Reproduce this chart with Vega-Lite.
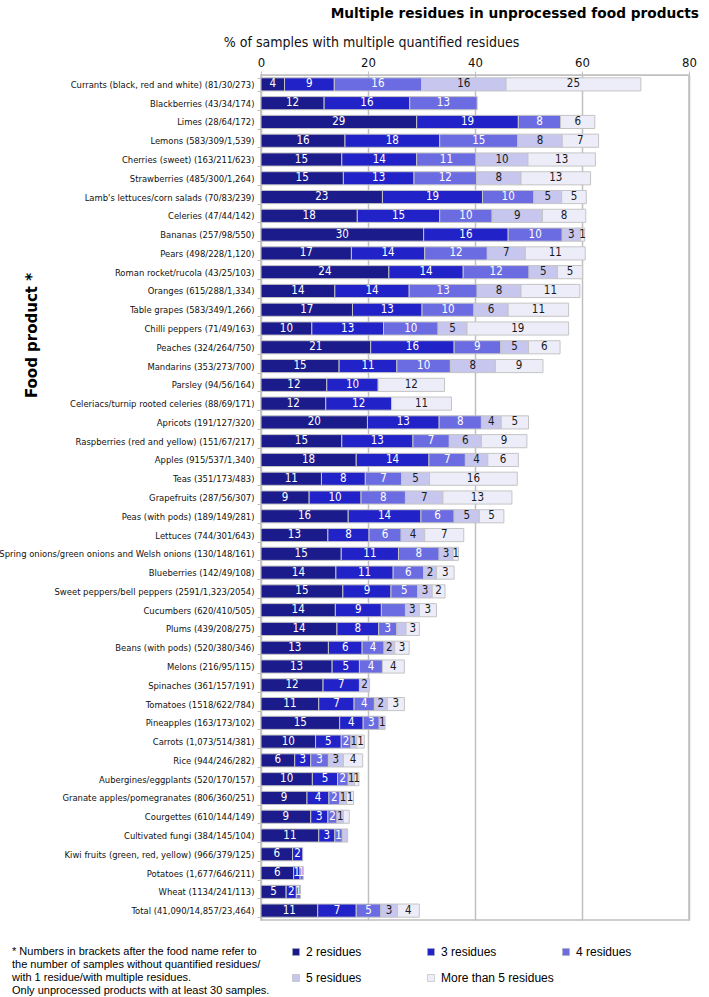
{
  "$schema": "https://vega.github.io/schema/vega-lite/v6.json",
  "width": 428,
  "height": 845,
  "autosize": {"type": "none"},
  "padding": {"left": 261, "top": 75, "right": 20, "bottom": 77},
  "background": "white",
  "title": {"text": "Multiple residues in unprocessed food products", "anchor": "end", "frame": "group", "font": "DejaVu Sans", "fontSize": 13.7, "fontWeight": "bold", "color": "black", "dx": 10, "offset": 14},
  "data": {"values": [
    {"food": "Currants (black, red and white) (81/30/273)", "residues": "2 residues", "value": 4.4, "label": "4"},
    {"food": "Currants (black, red and white) (81/30/273)", "residues": "3 residues", "value": 9.3, "label": "9"},
    {"food": "Currants (black, red and white) (81/30/273)", "residues": "4 residues", "value": 16.3, "label": "16"},
    {"food": "Currants (black, red and white) (81/30/273)", "residues": "5 residues", "value": 15.8, "label": "16"},
    {"food": "Currants (black, red and white) (81/30/273)", "residues": "More than 5 residues", "value": 25.2, "label": "25"},
    {"food": "Blackberries (43/34/174)", "residues": "2 residues", "value": 11.8, "label": "12"},
    {"food": "Blackberries (43/34/174)", "residues": "3 residues", "value": 16.0, "label": "16"},
    {"food": "Blackberries (43/34/174)", "residues": "4 residues", "value": 12.6, "label": "13"},
    {"food": "Limes (28/64/172)", "residues": "2 residues", "value": 29.1, "label": "29"},
    {"food": "Limes (28/64/172)", "residues": "3 residues", "value": 19.0, "label": "19"},
    {"food": "Limes (28/64/172)", "residues": "4 residues", "value": 7.9, "label": "8"},
    {"food": "Limes (28/64/172)", "residues": "More than 5 residues", "value": 6.4, "label": "6"},
    {"food": "Lemons (583/309/1,539)", "residues": "2 residues", "value": 15.7, "label": "16"},
    {"food": "Lemons (583/309/1,539)", "residues": "3 residues", "value": 17.7, "label": "18"},
    {"food": "Lemons (583/309/1,539)", "residues": "4 residues", "value": 14.6, "label": "15"},
    {"food": "Lemons (583/309/1,539)", "residues": "5 residues", "value": 8.3, "label": "8"},
    {"food": "Lemons (583/309/1,539)", "residues": "More than 5 residues", "value": 6.8, "label": "7"},
    {"food": "Cherries (sweet) (163/211/623)", "residues": "2 residues", "value": 15.1, "label": "15"},
    {"food": "Cherries (sweet) (163/211/623)", "residues": "3 residues", "value": 14.0, "label": "14"},
    {"food": "Cherries (sweet) (163/211/623)", "residues": "4 residues", "value": 11.1, "label": "11"},
    {"food": "Cherries (sweet) (163/211/623)", "residues": "5 residues", "value": 9.7, "label": "10"},
    {"food": "Cherries (sweet) (163/211/623)", "residues": "More than 5 residues", "value": 12.6, "label": "13"},
    {"food": "Strawberries (485/300/1,264)", "residues": "2 residues", "value": 15.4, "label": "15"},
    {"food": "Strawberries (485/300/1,264)", "residues": "3 residues", "value": 13.2, "label": "13"},
    {"food": "Strawberries (485/300/1,264)", "residues": "4 residues", "value": 11.7, "label": "12"},
    {"food": "Strawberries (485/300/1,264)", "residues": "5 residues", "value": 8.3, "label": "8"},
    {"food": "Strawberries (485/300/1,264)", "residues": "More than 5 residues", "value": 13.0, "label": "13"},
    {"food": "Lamb's lettuces/corn salads (70/83/239)", "residues": "2 residues", "value": 22.7, "label": "23"},
    {"food": "Lamb's lettuces/corn salads (70/83/239)", "residues": "3 residues", "value": 18.7, "label": "19"},
    {"food": "Lamb's lettuces/corn salads (70/83/239)", "residues": "4 residues", "value": 9.6, "label": "10"},
    {"food": "Lamb's lettuces/corn salads (70/83/239)", "residues": "5 residues", "value": 5.2, "label": "5"},
    {"food": "Lamb's lettuces/corn salads (70/83/239)", "residues": "More than 5 residues", "value": 4.6, "label": "5"},
    {"food": "Celeries (47/44/142)", "residues": "2 residues", "value": 18.0, "label": "18"},
    {"food": "Celeries (47/44/142)", "residues": "3 residues", "value": 15.4, "label": "15"},
    {"food": "Celeries (47/44/142)", "residues": "4 residues", "value": 9.8, "label": "10"},
    {"food": "Celeries (47/44/142)", "residues": "5 residues", "value": 9.4, "label": "9"},
    {"food": "Celeries (47/44/142)", "residues": "More than 5 residues", "value": 8.1, "label": "8"},
    {"food": "Bananas (257/98/550)", "residues": "2 residues", "value": 30.4, "label": "30"},
    {"food": "Bananas (257/98/550)", "residues": "3 residues", "value": 15.8, "label": "16"},
    {"food": "Bananas (257/98/550)", "residues": "4 residues", "value": 10.1, "label": "10"},
    {"food": "Bananas (257/98/550)", "residues": "5 residues", "value": 3.4, "label": "3"},
    {"food": "Bananas (257/98/550)", "residues": "More than 5 residues", "value": 0.8, "label": "1"},
    {"food": "Pears (498/228/1,120)", "residues": "2 residues", "value": 16.9, "label": "17"},
    {"food": "Pears (498/228/1,120)", "residues": "3 residues", "value": 13.7, "label": "14"},
    {"food": "Pears (498/228/1,120)", "residues": "4 residues", "value": 11.7, "label": "12"},
    {"food": "Pears (498/228/1,120)", "residues": "5 residues", "value": 7.1, "label": "7"},
    {"food": "Pears (498/228/1,120)", "residues": "More than 5 residues", "value": 11.2, "label": "11"},
    {"food": "Roman rocket/rucola (43/25/103)", "residues": "2 residues", "value": 23.9, "label": "24"},
    {"food": "Roman rocket/rucola (43/25/103)", "residues": "3 residues", "value": 13.9, "label": "14"},
    {"food": "Roman rocket/rucola (43/25/103)", "residues": "4 residues", "value": 12.3, "label": "12"},
    {"food": "Roman rocket/rucola (43/25/103)", "residues": "5 residues", "value": 5.3, "label": "5"},
    {"food": "Roman rocket/rucola (43/25/103)", "residues": "More than 5 residues", "value": 4.7, "label": "5"},
    {"food": "Oranges (615/288/1,334)", "residues": "2 residues", "value": 13.8, "label": "14"},
    {"food": "Oranges (615/288/1,334)", "residues": "3 residues", "value": 13.9, "label": "14"},
    {"food": "Oranges (615/288/1,334)", "residues": "4 residues", "value": 12.7, "label": "13"},
    {"food": "Oranges (615/288/1,334)", "residues": "5 residues", "value": 8.2, "label": "8"},
    {"food": "Oranges (615/288/1,334)", "residues": "More than 5 residues", "value": 11.0, "label": "11"},
    {"food": "Table grapes (583/349/1,266)", "residues": "2 residues", "value": 17.1, "label": "17"},
    {"food": "Table grapes (583/349/1,266)", "residues": "3 residues", "value": 13.0, "label": "13"},
    {"food": "Table grapes (583/349/1,266)", "residues": "4 residues", "value": 9.7, "label": "10"},
    {"food": "Table grapes (583/349/1,266)", "residues": "5 residues", "value": 6.4, "label": "6"},
    {"food": "Table grapes (583/349/1,266)", "residues": "More than 5 residues", "value": 11.3, "label": "11"},
    {"food": "Chilli peppers (71/49/163)", "residues": "2 residues", "value": 9.5, "label": "10"},
    {"food": "Chilli peppers (71/49/163)", "residues": "3 residues", "value": 13.4, "label": "13"},
    {"food": "Chilli peppers (71/49/163)", "residues": "4 residues", "value": 10.2, "label": "10"},
    {"food": "Chilli peppers (71/49/163)", "residues": "5 residues", "value": 5.4, "label": "5"},
    {"food": "Chilli peppers (71/49/163)", "residues": "More than 5 residues", "value": 19.0, "label": "19"},
    {"food": "Peaches (324/264/750)", "residues": "2 residues", "value": 20.5, "label": "21"},
    {"food": "Peaches (324/264/750)", "residues": "3 residues", "value": 15.6, "label": "16"},
    {"food": "Peaches (324/264/750)", "residues": "4 residues", "value": 8.7, "label": "9"},
    {"food": "Peaches (324/264/750)", "residues": "5 residues", "value": 5.2, "label": "5"},
    {"food": "Peaches (324/264/750)", "residues": "More than 5 residues", "value": 5.9, "label": "6"},
    {"food": "Mandarins (353/273/700)", "residues": "2 residues", "value": 14.6, "label": "15"},
    {"food": "Mandarins (353/273/700)", "residues": "3 residues", "value": 10.8, "label": "11"},
    {"food": "Mandarins (353/273/700)", "residues": "4 residues", "value": 10.0, "label": "10"},
    {"food": "Mandarins (353/273/700)", "residues": "5 residues", "value": 8.4, "label": "8"},
    {"food": "Mandarins (353/273/700)", "residues": "More than 5 residues", "value": 8.9, "label": "9"},
    {"food": "Parsley (94/56/164)", "residues": "2 residues", "value": 12.3, "label": "12"},
    {"food": "Parsley (94/56/164)", "residues": "3 residues", "value": 9.6, "label": "10"},
    {"food": "Parsley (94/56/164)", "residues": "More than 5 residues", "value": 12.4, "label": "12"},
    {"food": "Celeriacs/turnip rooted celeries (88/69/171)", "residues": "2 residues", "value": 12.1, "label": "12"},
    {"food": "Celeriacs/turnip rooted celeries (88/69/171)", "residues": "3 residues", "value": 12.3, "label": "12"},
    {"food": "Celeriacs/turnip rooted celeries (88/69/171)", "residues": "More than 5 residues", "value": 11.2, "label": "11"},
    {"food": "Apricots (191/127/320)", "residues": "2 residues", "value": 19.9, "label": "20"},
    {"food": "Apricots (191/127/320)", "residues": "3 residues", "value": 13.4, "label": "13"},
    {"food": "Apricots (191/127/320)", "residues": "4 residues", "value": 7.9, "label": "8"},
    {"food": "Apricots (191/127/320)", "residues": "5 residues", "value": 3.7, "label": "4"},
    {"food": "Apricots (191/127/320)", "residues": "More than 5 residues", "value": 5.1, "label": "5"},
    {"food": "Raspberries (red and yellow) (151/67/217)", "residues": "2 residues", "value": 15.1, "label": "15"},
    {"food": "Raspberries (red and yellow) (151/67/217)", "residues": "3 residues", "value": 13.3, "label": "13"},
    {"food": "Raspberries (red and yellow) (151/67/217)", "residues": "4 residues", "value": 6.8, "label": "7"},
    {"food": "Raspberries (red and yellow) (151/67/217)", "residues": "5 residues", "value": 6.0, "label": "6"},
    {"food": "Raspberries (red and yellow) (151/67/217)", "residues": "More than 5 residues", "value": 8.5, "label": "9"},
    {"food": "Apples (915/537/1,340)", "residues": "2 residues", "value": 17.8, "label": "18"},
    {"food": "Apples (915/537/1,340)", "residues": "3 residues", "value": 13.6, "label": "14"},
    {"food": "Apples (915/537/1,340)", "residues": "4 residues", "value": 6.8, "label": "7"},
    {"food": "Apples (915/537/1,340)", "residues": "5 residues", "value": 4.2, "label": "4"},
    {"food": "Apples (915/537/1,340)", "residues": "More than 5 residues", "value": 5.7, "label": "6"},
    {"food": "Teas (351/173/483)", "residues": "2 residues", "value": 11.3, "label": "11"},
    {"food": "Teas (351/173/483)", "residues": "3 residues", "value": 8.2, "label": "8"},
    {"food": "Teas (351/173/483)", "residues": "4 residues", "value": 6.8, "label": "7"},
    {"food": "Teas (351/173/483)", "residues": "5 residues", "value": 5.2, "label": "5"},
    {"food": "Teas (351/173/483)", "residues": "More than 5 residues", "value": 16.4, "label": "16"},
    {"food": "Grapefruits (287/56/307)", "residues": "2 residues", "value": 9.0, "label": "9"},
    {"food": "Grapefruits (287/56/307)", "residues": "3 residues", "value": 9.7, "label": "10"},
    {"food": "Grapefruits (287/56/307)", "residues": "4 residues", "value": 8.3, "label": "8"},
    {"food": "Grapefruits (287/56/307)", "residues": "5 residues", "value": 7.0, "label": "7"},
    {"food": "Grapefruits (287/56/307)", "residues": "More than 5 residues", "value": 12.9, "label": "13"},
    {"food": "Peas (with pods) (189/149/281)", "residues": "2 residues", "value": 16.3, "label": "16"},
    {"food": "Peas (with pods) (189/149/281)", "residues": "3 residues", "value": 13.6, "label": "14"},
    {"food": "Peas (with pods) (189/149/281)", "residues": "4 residues", "value": 6.2, "label": "6"},
    {"food": "Peas (with pods) (189/149/281)", "residues": "5 residues", "value": 4.7, "label": "5"},
    {"food": "Peas (with pods) (189/149/281)", "residues": "More than 5 residues", "value": 4.6, "label": "5"},
    {"food": "Lettuces (744/301/643)", "residues": "2 residues", "value": 12.5, "label": "13"},
    {"food": "Lettuces (744/301/643)", "residues": "3 residues", "value": 7.7, "label": "8"},
    {"food": "Lettuces (744/301/643)", "residues": "4 residues", "value": 6.0, "label": "6"},
    {"food": "Lettuces (744/301/643)", "residues": "5 residues", "value": 4.4, "label": "4"},
    {"food": "Lettuces (744/301/643)", "residues": "More than 5 residues", "value": 7.3, "label": "7"},
    {"food": "Spring onions/green onions and Welsh onions (130/148/161)", "residues": "2 residues", "value": 15.0, "label": "15"},
    {"food": "Spring onions/green onions and Welsh onions (130/148/161)", "residues": "3 residues", "value": 10.7, "label": "11"},
    {"food": "Spring onions/green onions and Welsh onions (130/148/161)", "residues": "4 residues", "value": 7.6, "label": "8"},
    {"food": "Spring onions/green onions and Welsh onions (130/148/161)", "residues": "5 residues", "value": 2.6, "label": "3"},
    {"food": "Spring onions/green onions and Welsh onions (130/148/161)", "residues": "More than 5 residues", "value": 1.0, "label": "1"},
    {"food": "Blueberries (142/49/108)", "residues": "2 residues", "value": 14.0, "label": "14"},
    {"food": "Blueberries (142/49/108)", "residues": "3 residues", "value": 10.7, "label": "11"},
    {"food": "Blueberries (142/49/108)", "residues": "4 residues", "value": 5.7, "label": "6"},
    {"food": "Blueberries (142/49/108)", "residues": "5 residues", "value": 2.4, "label": "2"},
    {"food": "Blueberries (142/49/108)", "residues": "More than 5 residues", "value": 3.3, "label": "3"},
    {"food": "Sweet peppers/bell peppers (2591/1,323/2054)", "residues": "2 residues", "value": 15.3, "label": "15"},
    {"food": "Sweet peppers/bell peppers (2591/1,323/2054)", "residues": "3 residues", "value": 9.0, "label": "9"},
    {"food": "Sweet peppers/bell peppers (2591/1,323/2054)", "residues": "4 residues", "value": 5.0, "label": "5"},
    {"food": "Sweet peppers/bell peppers (2591/1,323/2054)", "residues": "5 residues", "value": 2.7, "label": "3"},
    {"food": "Sweet peppers/bell peppers (2591/1,323/2054)", "residues": "More than 5 residues", "value": 2.4, "label": "2"},
    {"food": "Cucumbers (620/410/505)", "residues": "2 residues", "value": 13.9, "label": "14"},
    {"food": "Cucumbers (620/410/505)", "residues": "3 residues", "value": 8.6, "label": "9"},
    {"food": "Cucumbers (620/410/505)", "residues": "4 residues", "value": 4.5, "label": ""},
    {"food": "Cucumbers (620/410/505)", "residues": "5 residues", "value": 2.6, "label": "3"},
    {"food": "Cucumbers (620/410/505)", "residues": "More than 5 residues", "value": 3.2, "label": "3"},
    {"food": "Plums (439/208/275)", "residues": "2 residues", "value": 14.2, "label": "14"},
    {"food": "Plums (439/208/275)", "residues": "3 residues", "value": 7.8, "label": "8"},
    {"food": "Plums (439/208/275)", "residues": "4 residues", "value": 3.4, "label": "3"},
    {"food": "Plums (439/208/275)", "residues": "5 residues", "value": 1.7, "label": ""},
    {"food": "Plums (439/208/275)", "residues": "More than 5 residues", "value": 2.5, "label": "3"},
    {"food": "Beans (with pods) (520/380/346)", "residues": "2 residues", "value": 12.6, "label": "13"},
    {"food": "Beans (with pods) (520/380/346)", "residues": "3 residues", "value": 6.3, "label": "6"},
    {"food": "Beans (with pods) (520/380/346)", "residues": "4 residues", "value": 4.1, "label": "4"},
    {"food": "Beans (with pods) (520/380/346)", "residues": "5 residues", "value": 2.0, "label": "2"},
    {"food": "Beans (with pods) (520/380/346)", "residues": "More than 5 residues", "value": 2.7, "label": "3"},
    {"food": "Melons (216/95/115)", "residues": "2 residues", "value": 13.3, "label": "13"},
    {"food": "Melons (216/95/115)", "residues": "3 residues", "value": 5.1, "label": "5"},
    {"food": "Melons (216/95/115)", "residues": "4 residues", "value": 4.3, "label": "4"},
    {"food": "Melons (216/95/115)", "residues": "More than 5 residues", "value": 4.1, "label": "4"},
    {"food": "Spinaches (361/157/191)", "residues": "2 residues", "value": 11.6, "label": "12"},
    {"food": "Spinaches (361/157/191)", "residues": "3 residues", "value": 6.8, "label": "7"},
    {"food": "Spinaches (361/157/191)", "residues": "5 residues", "value": 1.9, "label": "2"},
    {"food": "Tomatoes (1518/622/784)", "residues": "2 residues", "value": 10.8, "label": "11"},
    {"food": "Tomatoes (1518/622/784)", "residues": "3 residues", "value": 6.6, "label": "7"},
    {"food": "Tomatoes (1518/622/784)", "residues": "4 residues", "value": 3.8, "label": "4"},
    {"food": "Tomatoes (1518/622/784)", "residues": "5 residues", "value": 2.4, "label": "2"},
    {"food": "Tomatoes (1518/622/784)", "residues": "More than 5 residues", "value": 3.2, "label": "3"},
    {"food": "Pineapples (163/173/102)", "residues": "2 residues", "value": 14.7, "label": "15"},
    {"food": "Pineapples (163/173/102)", "residues": "3 residues", "value": 4.4, "label": "4"},
    {"food": "Pineapples (163/173/102)", "residues": "4 residues", "value": 3.0, "label": "3"},
    {"food": "Pineapples (163/173/102)", "residues": "5 residues", "value": 1.1, "label": "1"},
    {"food": "Carrots (1,073/514/381)", "residues": "2 residues", "value": 10.2, "label": "10"},
    {"food": "Carrots (1,073/514/381)", "residues": "3 residues", "value": 4.8, "label": "5"},
    {"food": "Carrots (1,073/514/381)", "residues": "4 residues", "value": 1.8, "label": "2"},
    {"food": "Carrots (1,073/514/381)", "residues": "5 residues", "value": 1.1, "label": "1"},
    {"food": "Carrots (1,073/514/381)", "residues": "More than 5 residues", "value": 1.4, "label": "1"},
    {"food": "Rice (944/246/282)", "residues": "2 residues", "value": 6.3, "label": "6"},
    {"food": "Rice (944/246/282)", "residues": "3 residues", "value": 3.0, "label": "3"},
    {"food": "Rice (944/246/282)", "residues": "4 residues", "value": 3.3, "label": "3"},
    {"food": "Rice (944/246/282)", "residues": "5 residues", "value": 2.8, "label": "3"},
    {"food": "Rice (944/246/282)", "residues": "More than 5 residues", "value": 3.6, "label": "4"},
    {"food": "Aubergines/eggplants (520/170/157)", "residues": "2 residues", "value": 9.6, "label": "10"},
    {"food": "Aubergines/eggplants (520/170/157)", "residues": "3 residues", "value": 4.7, "label": "5"},
    {"food": "Aubergines/eggplants (520/170/157)", "residues": "4 residues", "value": 2.0, "label": "2"},
    {"food": "Aubergines/eggplants (520/170/157)", "residues": "5 residues", "value": 1.2, "label": "1"},
    {"food": "Aubergines/eggplants (520/170/157)", "residues": "More than 5 residues", "value": 0.8, "label": "1"},
    {"food": "Granate apples/pomegranates (806/360/251)", "residues": "2 residues", "value": 8.6, "label": "9"},
    {"food": "Granate apples/pomegranates (806/360/251)", "residues": "3 residues", "value": 4.1, "label": "4"},
    {"food": "Granate apples/pomegranates (806/360/251)", "residues": "4 residues", "value": 2.0, "label": "2"},
    {"food": "Granate apples/pomegranates (806/360/251)", "residues": "5 residues", "value": 1.3, "label": "1"},
    {"food": "Granate apples/pomegranates (806/360/251)", "residues": "More than 5 residues", "value": 1.3, "label": "1"},
    {"food": "Courgettes (610/144/149)", "residues": "2 residues", "value": 9.3, "label": "9"},
    {"food": "Courgettes (610/144/149)", "residues": "3 residues", "value": 3.2, "label": "3"},
    {"food": "Courgettes (610/144/149)", "residues": "4 residues", "value": 1.7, "label": "2"},
    {"food": "Courgettes (610/144/149)", "residues": "5 residues", "value": 1.2, "label": "1"},
    {"food": "Courgettes (610/144/149)", "residues": "More than 5 residues", "value": 1.1, "label": ""},
    {"food": "Cultivated fungi (384/145/104)", "residues": "2 residues", "value": 10.8, "label": "11"},
    {"food": "Cultivated fungi (384/145/104)", "residues": "3 residues", "value": 3.0, "label": "3"},
    {"food": "Cultivated fungi (384/145/104)", "residues": "4 residues", "value": 1.4, "label": "1"},
    {"food": "Cultivated fungi (384/145/104)", "residues": "5 residues", "value": 1.0, "label": ""},
    {"food": "Kiwi fruits (green, red, yellow) (966/379/125)", "residues": "2 residues", "value": 5.9, "label": "6"},
    {"food": "Kiwi fruits (green, red, yellow) (966/379/125)", "residues": "3 residues", "value": 1.9, "label": "2"},
    {"food": "Potatoes (1,677/646/211)", "residues": "2 residues", "value": 6.1, "label": "6"},
    {"food": "Potatoes (1,677/646/211)", "residues": "3 residues", "value": 1.2, "label": "1"},
    {"food": "Potatoes (1,677/646/211)", "residues": "4 residues", "value": 0.6, "label": "1"},
    {"food": "Wheat (1134/241/113)", "residues": "2 residues", "value": 4.7, "label": "5"},
    {"food": "Wheat (1134/241/113)", "residues": "3 residues", "value": 1.9, "label": "2"},
    {"food": "Wheat (1134/241/113)", "residues": "4 residues", "value": 0.8, "label": "1"},
    {"food": "Total (41,090/14,857/23,464)", "residues": "2 residues", "value": 10.6, "label": "11"},
    {"food": "Total (41,090/14,857/23,464)", "residues": "3 residues", "value": 7.2, "label": "7"},
    {"food": "Total (41,090/14,857/23,464)", "residues": "4 residues", "value": 4.6, "label": "5"},
    {"food": "Total (41,090/14,857/23,464)", "residues": "5 residues", "value": 3.1, "label": "3"},
    {"food": "Total (41,090/14,857/23,464)", "residues": "More than 5 residues", "value": 4.1, "label": "4"}
  ]},
  "encoding": {
    "y": {
      "field": "food", "type": "nominal", "sort": null,
      "scale": {"paddingInner": 0.3, "paddingOuter": 0.15},
      "axis": {
        "title": "Food product *", "titleFont": "DejaVu Sans", "titleFontSize": 15, "titleFontWeight": "bold", "titleColor": "black",
        "titleAngle": -90, "titleX": -230, "titleY": 260, "titleAlign": "center", "titleBaseline": "middle",
        "labelFont": "DejaVu Sans Condensed, sans-serif", "labelFontSize": 9.4, "labelColor": "#111", "labelPadding": 3, "labelLimit": 320,
        "tickSize": 4, "tickColor": "#c0c0c0", "tickBand": "extent", "domainColor": "#c0c0c0"
      }
    }
  },
  "layer": [
    {
      "mark": {"type": "bar", "stroke": "#c4c4c4", "strokeWidth": 1},
      "encoding": {
        "x": {
          "field": "value", "type": "quantitative", "stack": "zero",
          "scale": {"domain": [0, 80], "nice": false},
          "axis": {
            "orient": "top", "title": "% of samples with multiple quantified residues", "values": [0, 20, 40, 60, 80],
            "grid": true, "gridColor": "#c0c0c0", "gridWidth": 1.5, "domainColor": "#c0c0c0", "tickColor": "#c0c0c0", "tickSize": 4,
            "labelFont": "DejaVu Sans Condensed, sans-serif", "labelFontSize": 13, "labelColor": "#111", "labelPadding": 2, "labelFlush": false,
            "titleFont": "DejaVu Sans Condensed, sans-serif", "titleFontSize": 14, "titleFontWeight": "normal", "titleColor": "#111",
            "titleX": 110, "titleY": -33, "titleAlign": "center", "titleBaseline": "middle"
          }
        },
        "color": {
          "field": "residues", "type": "nominal",
          "scale": {"domain": ["2 residues", "3 residues", "4 residues", "5 residues", "More than 5 residues"], "range": ["#1b1b8c", "#2222c9", "#6c6ce2", "#c6c6ef", "#ededfa"]},
          "legend": {
            "orient": "none", "legendX": -249, "legendY": 871, "direction": "horizontal", "columns": 3, "gridAlign": "all",
            "title": ["* Numbers in brackets after the food name refer to", "the number of samples without quantified residues/", "with 1 residue/with multiple residues.", "Only unprocessed products  with at least 30 samples."],
            "titleOrient": "left", "titleAnchor": "start", "titleBaseline": "top", "titleFont": "Liberation Sans", "titleFontSize": 11, "titleFontWeight": "normal",
            "titleLineHeight": 13, "titleLimit": 400, "titlePadding": 17, "titleColor": "black",
            "labelFont": "Liberation Sans", "labelFontSize": 12, "labelColor": "black", "labelOffset": 4, "labelLimit": 200,
            "symbolType": "square", "symbolSize": 49, "symbolStrokeColor": "#aaaaaa", "symbolStrokeWidth": 0.5,
            "rowPadding": 14, "columnPadding": 6
          }
        },
        "order": {"field": "residues", "type": "ordinal", "sort": "ascending"}
      }
    },
    {
      "mark": {"type": "text", "font": "DejaVu Sans Condensed, sans-serif", "fontSize": 11.5, "align": "center", "baseline": "middle"},
      "encoding": {
        "x": {"field": "value", "type": "quantitative", "stack": "zero", "bandPosition": 0.5},
        "detail": {"field": "residues", "type": "nominal"},
        "order": {"field": "residues", "type": "ordinal", "sort": "ascending"},
        "text": {"field": "label", "type": "nominal"},
        "color": {"condition": {"test": "datum.residues === '5 residues' || datum.residues === 'More than 5 residues'", "value": "#1a1a1a"}, "value": "white"}
      }
    }
  ],
  "config": {
    "view": {"stroke": "#c0c0c0", "strokeWidth": 1.5}
  }
}
